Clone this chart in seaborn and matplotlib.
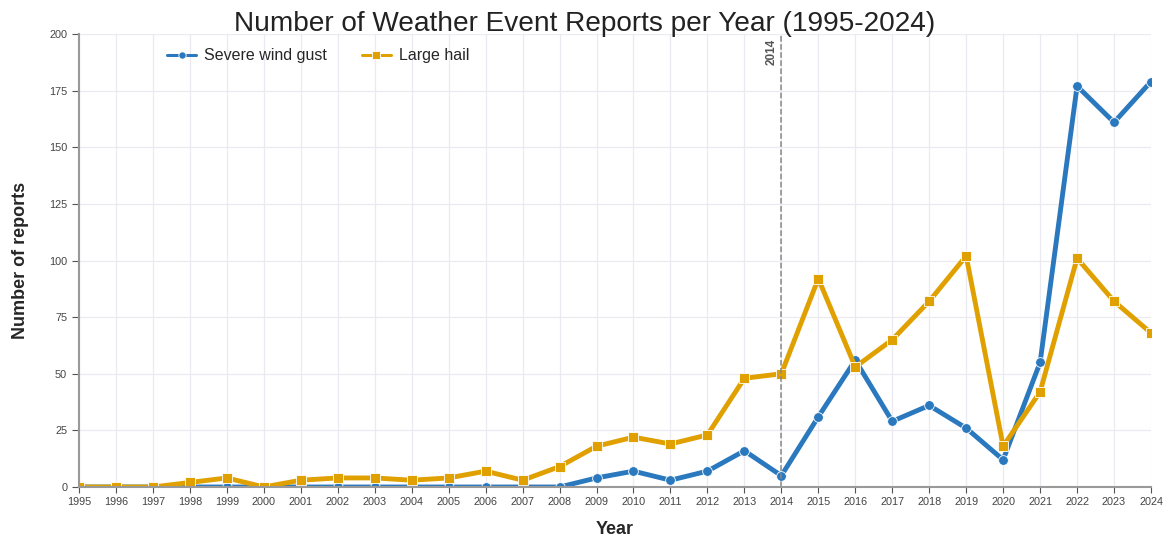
import numpy as np
import pandas as pd
import matplotlib.pyplot as plt
import seaborn as sns

years = list(range(1995, 2025))
wind = [0, 0, 0, 0, 0, 0, 0, 0, 0, 0, 0, 0, 0, 0,
        4, 7, 3, 7, 16, 5, 31, 56, 29, 36, 26, 12, 55, 177, 161, 179]
hail = [0, 0, 0, 2, 4, 0, 3, 4, 4, 3, 4, 7, 3, 9,
        18, 22, 19, 23, 48, 50, 92, 53, 65, 82, 102, 18, 42, 101, 82, 68]

df = pd.DataFrame({
    'Year': years * 2,
    'Reports': wind + hail,
    'Event': ['Severe wind gust'] * len(years) + ['Large hail'] * len(years),
})

sns.set_style('white')
plt.rcParams['font.family'] = ['Liberation Sans', 'DejaVu Sans']

fig = plt.figure(figsize=(11.7, 5.43), dpi=100)
ax = fig.add_axes([79 / 1170, 1 - 487 / 543, (1151 - 79) / 1170, (487 - 34) / 543])

palette = {'Severe wind gust': '#2a78bd', 'Large hail': '#e0a000'}
sns.lineplot(data=df, x='Year', y='Reports', hue='Event', style='Event',
             markers={'Severe wind gust': 'o', 'Large hail': 's'}, dashes=False,
             palette=palette, linewidth=3.5, markersize=7,
             markeredgecolor='white', markeredgewidth=0.6, ax=ax)

ax.set_xlim(1995, 2024)
ax.set_ylim(0, 200)
ax.set_xticks(years)
ax.set_xticklabels([str(y) for y in years], fontsize=7.8, color='#444444')
ax.set_yticks(range(0, 201, 25))
ax.tick_params(axis='y', labelsize=7.8, labelcolor='#444444', length=5, color='#555555', direction='out', left=True)
ax.tick_params(axis='x', length=4, color='#555555', direction='out', bottom=True)
ax.grid(True, color='#eaeaf0', linewidth=0.9)
for s in ['top', 'right']:
    ax.spines[s].set_visible(False)
for s in ['left', 'bottom']:
    ax.spines[s].set_color('#999999')
    ax.spines[s].set_linewidth(1.5)

ax.axvline(2014, color='#888888', linestyle='--', linewidth=1.1)
ax.text(2013.75, 198, '2014', rotation=90, ha='center', va='top',
        fontsize=8.5, fontweight='bold', color='#555555')

ax.set_xlabel('Year', fontsize=13, fontweight='bold', labelpad=10)
ax.set_ylabel('Number of reports', fontsize=13, fontweight='bold', labelpad=14)
fig.suptitle('Number of Weather Event Reports per Year (1995-2024)',
             fontsize=20.2, y=0.98, color='#222222')

leg = ax.legend(title=None, loc='upper left', bbox_to_anchor=(0.069, 1.0), ncol=2,
                frameon=False, fontsize=11.5, handlelength=1.8, handletextpad=0.5,
                columnspacing=2.2, markerscale=0.75)
for h in leg.get_lines():
    h.set_linewidth(2.2)

fig.savefig('out.png', dpi=100)
